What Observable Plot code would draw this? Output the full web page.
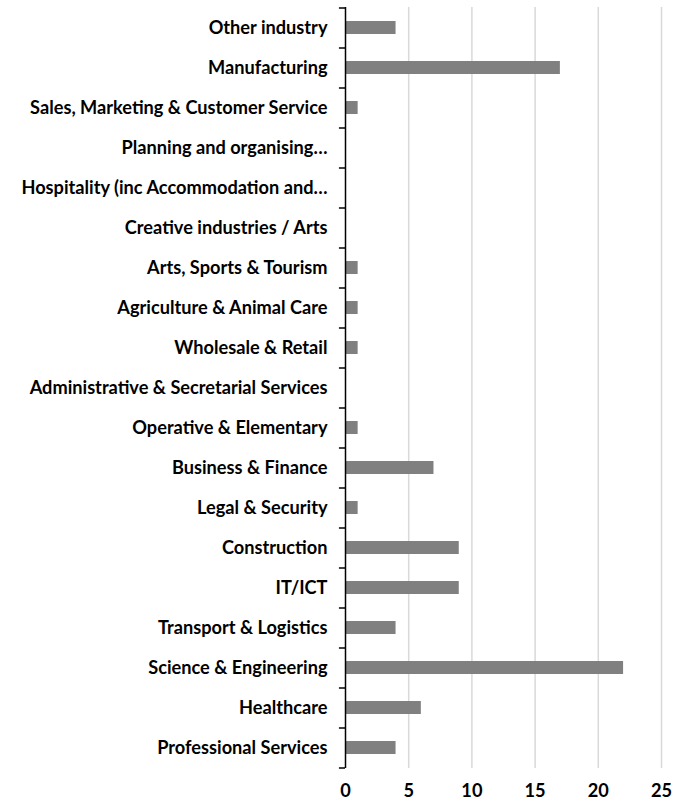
<!DOCTYPE html>
<html>
<head>
<meta charset="utf-8">
<script src="https://cdn.jsdelivr.net/npm/d3@7"></script>
<script src="https://cdn.jsdelivr.net/npm/@observablehq/plot@0.6"></script>
<style>
  html, body { margin: 0; padding: 0; background: #fff; }
  #chart svg { display: block; }
</style>
</head>
<body>
<div id="chart"></div>
<script>
const categories = [
  "Other industry",
  "Manufacturing",
  "Sales, Marketing & Customer Service",
  "Planning and organising…",
  "Hospitality (inc Accommodation and…",
  "Creative industries / Arts",
  "Arts, Sports & Tourism",
  "Agriculture & Animal Care",
  "Wholesale & Retail",
  "Administrative & Secretarial Services",
  "Operative & Elementary",
  "Business & Finance",
  "Legal & Security",
  "Construction",
  "IT/ICT",
  "Transport & Logistics",
  "Science & Engineering",
  "Healthcare",
  "Professional Services"
];
const values = [4, 17, 1, 0, 0, 0, 1, 1, 1, 0, 1, 7, 1, 9, 9, 4, 22, 6, 4];
const xTicks = [0, 5, 10, 15, 20, 25];

const data = categories.map((c, i) => ({category: c, value: values[i]}));

const chart = Plot.plot({
  width: 700,
  height: 803,
  marginTop: 7,
  marginBottom: 35,
  marginLeft: 345,
  marginRight: 39,
  style: {fontFamily: "Lato, 'Open Sans', sans-serif", fontSize: "18.2px", fontWeight: "bold", color: "#000"},
  x: {domain: [0, 25], ticks: xTicks, tickSize: 0, tickPadding: 16, label: null},
  y: {domain: categories, paddingInner: 0.683, paddingOuter: 0.3415, tickSize: 0, tickPadding: 18, label: null},
  marks: [
    Plot.ruleX(xTicks.filter(d => d > 0), {stroke: "#d9d9d9", strokeWidth: 1.5}),
    Plot.barX(data, {y: "category", x: "value", fill: "#808080"}),
    Plot.ruleX([0], {stroke: "#000", strokeWidth: 1.5}),
    Plot.ruleY(categories, {y: d => d, x1: -0.48, x2: 0, dy: -20, stroke: "#000", strokeWidth: 1.5}),
    Plot.ruleY(categories.slice(-1), {y: d => d, x1: -0.48, x2: 0, dy: 20, stroke: "#000", strokeWidth: 1.5})
  ]
});
document.getElementById("chart").appendChild(chart);
</script>
</body>
</html>
